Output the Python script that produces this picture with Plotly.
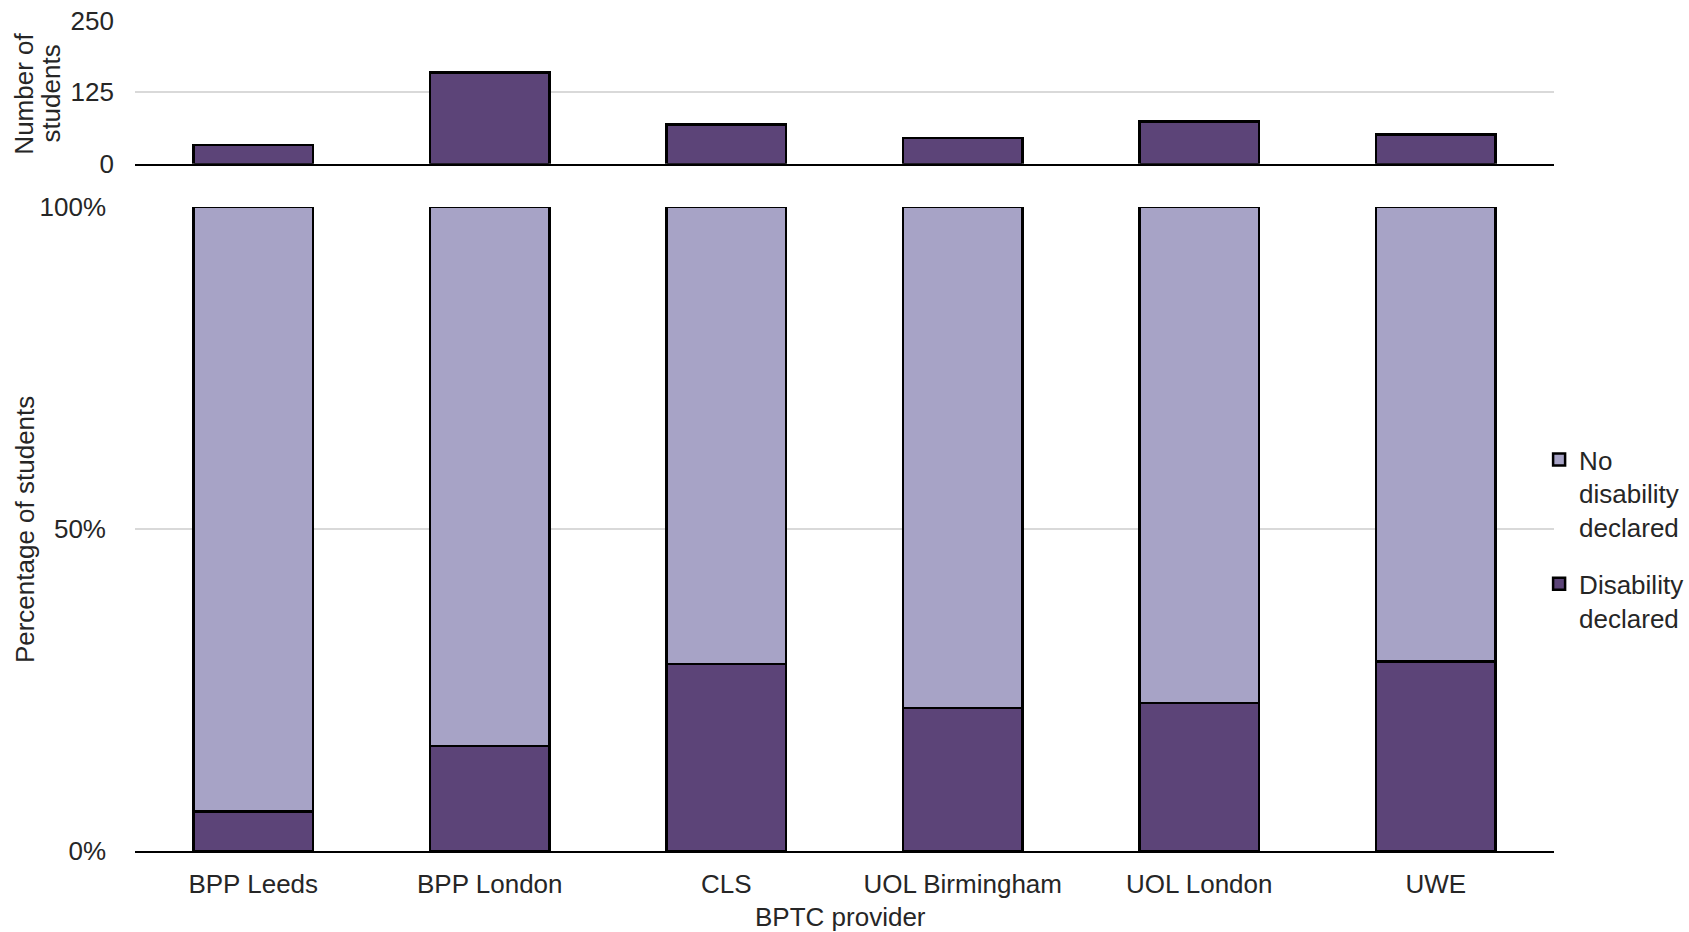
import plotly.graph_objects as go

providers = ["BPP Leeds", "BPP London", "CLS", "UOL Birmingham", "UOL London", "UWE"]
total_students = [33, 160, 69, 45, 74, 51]
disability_pct = [6.1, 16.3, 29.0, 22.2, 23.0, 29.4]
no_disability_pct = [93.9, 83.7, 71.0, 77.8, 77.0, 70.6]

dark = "#5C4478"
light = "#A7A3C6"
font_fam = "Liberation Sans, Arial, sans-serif"
txt = "#262626"
grid = "#D9D9D9"
fs = 26

fig = go.Figure()
fig.add_trace(go.Bar(x=providers, y=total_students, xaxis="x2", yaxis="y2",
                     marker=dict(color=dark, line=dict(color="black", width=2.5)),
                     showlegend=False, name="Number of students"))
fig.add_trace(go.Bar(x=providers, y=disability_pct, name="Disability<br>declared",
                     legendgroup="b", legendrank=2,
                     marker=dict(color=dark, line=dict(color="black", width=2.5))))
fig.add_trace(go.Bar(x=providers, y=no_disability_pct, name="No<br>disability<br>declared",
                     legendgroup="a", legendrank=1,
                     marker=dict(color=light, line=dict(color="black", width=2.5))))

fig.update_layout(
    width=1689, height=932,
    margin=dict(l=135, r=135, t=21, b=81, autoexpand=False),
    paper_bgcolor="white", plot_bgcolor="white",
    barmode="stack", bargap=0.495,
    font=dict(family=font_fam, size=fs, color=txt),
    xaxis=dict(domain=[0, 1], anchor="y", showline=True, linecolor="black", linewidth=2,
               showgrid=False, ticks="", ticklabelstandoff=9, range=[-0.5, 5.5],
               tickfont=dict(size=fs, color=txt)),
    yaxis=dict(domain=[0, 0.776], anchor="x", range=[0, 100], tickvals=[0, 50, 100],
               ticktext=["0%", "50%", "100%"], showgrid=True, gridcolor=grid, gridwidth=1.5,
               zeroline=False, showline=False, ticklabelstandoff=28,
               tickfont=dict(size=fs, color=txt)),
    xaxis2=dict(domain=[0, 1], anchor="y2", showline=True, linecolor="black", linewidth=2,
                showgrid=False, showticklabels=False, ticks="", range=[-0.5, 5.5]),
    yaxis2=dict(domain=[0.828, 1.0], anchor="x2", range=[0, 250], tickvals=[0, 125, 250],
                showgrid=True, gridcolor=grid, gridwidth=1.5, zeroline=False, showline=False,
                ticklabelstandoff=20, tickfont=dict(size=fs, color=txt)),
    legend=dict(x=0.9895, xanchor="left", y=0.500, yanchor="top", traceorder="grouped",
                tracegroupgap=20, valign="top", bgcolor="rgba(0,0,0,0)",
                font=dict(size=fs, color=txt)),
    annotations=[
        dict(text="BPTC provider", xref="paper", yref="paper", x=0.4975, y=-0.0795,
             xanchor="center", yanchor="middle", showarrow=False,
             font=dict(size=fs, color=txt)),
        dict(text="Percentage of students", xref="paper", yref="paper", x=-0.078, y=0.387,
             xanchor="center", yanchor="middle", textangle=-90, showarrow=False,
             font=dict(size=fs, color=txt)),
        dict(text="Number of", xref="paper", yref="paper", x=-0.0785, y=0.912,
             xanchor="center", yanchor="middle", textangle=-90, showarrow=False,
             font=dict(size=fs, color=txt)),
        dict(text="students", xref="paper", yref="paper", x=-0.0595, y=0.912,
             xanchor="center", yanchor="middle", textangle=-90, showarrow=False,
             font=dict(size=fs, color=txt)),
    ],
)

fig.write_html(
    "out.html",
    config={"displayModeBar": False},
    post_script="document.body.style.margin='0';document.body.style.overflow='hidden';",
)
